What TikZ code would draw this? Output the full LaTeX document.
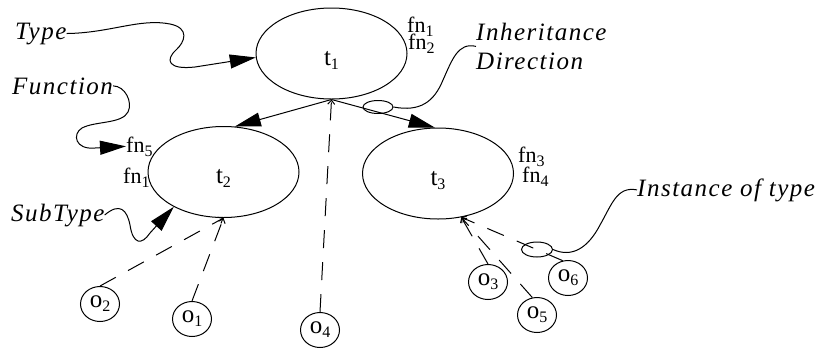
\documentclass[tikz,border=0pt]{standalone}
\usepackage{fontspec}
\setmainfont{Liberation Serif}
\newfontfamily\itlbl{Liberation Serif}[LetterSpace=6]
\usetikzlibrary{arrows.meta,shapes.geometric}
\newcommand\mysub[1]{\raisebox{-4pt}{\fontsize{16}{16}\selectfont #1}}
\tikzset{
 tnode/.style={ellipse, draw, line width=1pt, minimum width=151pt, minimum height=91pt, inner sep=0pt, text height=23pt, text depth=0pt, font=\fontsize{25}{25}\selectfont},
 onode/.style={ellipse, draw, line width=1pt, minimum width=39pt, minimum height=35pt, inner sep=0pt, text height=10pt, text depth=4pt, font=\fontsize{25}{25}\selectfont},
 hl/.style={ellipse, draw, line width=1pt, inner sep=0pt},
 fnl/.style={anchor=base west, inner sep=0pt, font=\fontsize{22}{22}\selectfont},
 itl/.style={anchor=base west, inner sep=0pt, font=\itlbl\itshape\fontsize{25}{29}\selectfont},
 big/.style={line width=1pt, -{Triangle[length=26pt,width=14pt]}},
 curv/.style={line width=1pt},
 dl/.style={line width=1pt, dash pattern=on 18pt off 14pt, -{Straight Barb[length=4pt,width=7pt]}},
}
\begin{document}
\begin{tikzpicture}[x=1pt,y=-1pt]
\useasboundingbox (0,0) rectangle (821,349);
\node[tnode] (t1) at (331.5,53.5) {t\mysub{1}};
\node[tnode] (t2) at (223.5,172) {t\mysub{2}};
\node[tnode] (t3) at (438,173.5) {t\mysub{3}};
\node[fnl] (fn1) at (407,32) {fn\mysub{1}};
\node[fnl] (fn2) at (408,49) {fn\mysub{2}};
\node[fnl] (fn3) at (518,162) {fn\mysub{3}};
\node[fnl] (fn4) at (522,182) {fn\mysub{4}};
\node[fnl] (fn5) at (126,152) {fn\mysub{5}};
\node[fnl] (fn1b) at (123,183) {fn\mysub{1}};
\node[onode] (o1) at (192,319) {o\mysub{1}};
\node[onode] (o2) at (100,304) {o\mysub{2}};
\node[onode] (o3) at (488,282) {o\mysub{3}};
\node[onode] (o4) at (320,330) {o\mysub{4}};
\node[onode] (o5) at (537,315) {o\mysub{5}};
\node[onode] (o6) at (568,278) {o\mysub{6}};
\node[itl] (type) at (15,39) {Type};
\node[itl] (func) at (12,94) {Function};
\node[itl] (subt) at (11,221) {SubType};
\node[itl, anchor=north west, align=left] (inh) at (476,22.9) {Inheritance\\Direction};
\node[itl] (inst) at (637,196) {Instance of type};
\node[hl, minimum width=30pt, minimum height=13pt] (hl1) at (378,107) {};
\node[hl, minimum width=31pt, minimum height=15pt] (hl2) at (537,249.5) {};
\draw[big] (t1.south) -- (t2.76);
\draw[big] (t1.south) -- (t3.94);
\draw[curv, -{Triangle[length=26pt,width=14pt]}] (type.east) .. controls (110,33) and (140,18) .. (170,24) .. controls (190,28) and (185,42) .. (176,50) .. controls (165,60) and (168,70) .. (195,67) -- (t1.183);
\draw[curv, -{Triangle[length=26pt,width=14pt]}] (func.east) .. controls (125,86) and (133,102) .. (128,112) .. controls (122,124) and (95,121) .. (82,128) .. controls (72,134) and (75,150) .. (95,148) -- (fn5.west);
\draw[curv, -{Triangle[length=26pt,width=14pt]}] (subt.east) .. controls (120,202) and (127,210) .. (130,225) .. controls (133,245) and (142,245) .. (150,233) -- (t2.215);
\draw[dl] (o2.north) -- (t2.south);
\draw[dl] (o1.north) -- (t2.south);
\draw[dl] (o4.north) -- (t1.south);
\draw[dl] (o3.north) -- (t3.-62);
\draw[dl] (o5.105) -- (t3.-62);
\draw[dl] (o6.107) -- (t3.-62);
\draw[curv] (inh.west) .. controls (458,42) and (452,60) .. (443,80) .. controls (434,102) and (420,112) .. (hl1.east);
\draw[curv] (inst.west) .. controls (617,186) and (612,204) .. (600,225) .. controls (588,248) and (572,258) .. (hl2.east);
\end{tikzpicture}
\end{document}
